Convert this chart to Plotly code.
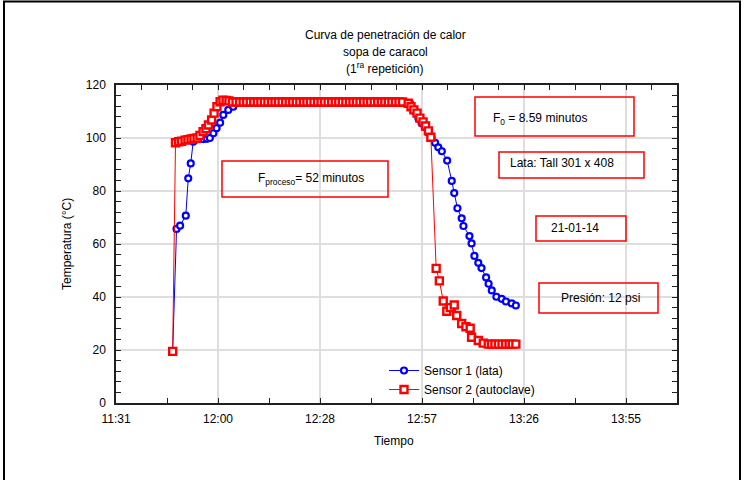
import plotly.graph_objects as go

# ---------------- data (time = minutes after midnight) ----------------
sensor1_time = [707.2, 708.3, 709.3, 710.9, 711.6, 712.3, 713.0, 714.0, 714.9, 715.9,
                716.9, 717.7, 718.7, 719.6, 720.6, 721.5, 722.9, 724.3,
                725.3, 726.3, 727.3, 728.3, 729.3, 730.3, 731.3, 732.3, 733.3, 734.3,
                735.3, 736.3, 737.3, 738.3, 739.3, 740.3, 741.3, 742.3, 743.3, 744.3,
                745.3, 746.3, 747.3, 748.3, 749.3, 750.3, 751.3, 752.3, 753.3, 754.3,
                755.3, 756.3, 757.3, 758.3, 759.3, 760.3, 761.3, 762.3, 763.3, 764.3,
                765.3, 766.3, 767.3, 768.3, 769.3, 770.3, 771.3, 772.3, 773.3,
                774.2, 775.6, 776.6, 777.5, 778.4, 779.4, 780.3, 781.3, 782.2, 783.2,
                784.7, 786.0, 786.7, 787.6, 788.8, 789.3, 791.0, 791.6, 792.4, 793.5,
                794.4, 795.7, 796.4, 797.3, 798.6, 800.1, 801.3, 802.9, 804.1]
sensor1_temp = [19.5, 65.7, 66.9, 70.7, 84.8, 90.4, 98.6, 99.5, 99.6, 99.6,
                99.7, 100.0, 101.8, 103.7, 105.8, 108.7, 110.6, 111.8,
                113.2, 113.2, 113.2, 113.2, 113.2, 113.2, 113.2, 113.2, 113.2, 113.2,
                113.2, 113.2, 113.2, 113.2, 113.2, 113.2, 113.2, 113.2, 113.2, 113.2,
                113.2, 113.2, 113.2, 113.2, 113.2, 113.2, 113.2, 113.2, 113.2, 113.2,
                113.2, 113.2, 113.2, 113.2, 113.2, 113.2, 113.2, 113.2, 113.2, 113.2,
                113.2, 113.2, 113.2, 113.2, 113.2, 113.2, 113.2, 113.2, 113.2,
                113.2, 110.0, 107.4, 105.6, 104.1, 102.0, 100.0, 98.2, 96.5, 95.0,
                91.5, 83.8, 79.2, 73.5, 69.7, 66.8, 63.0, 60.2, 55.5, 52.9,
                50.9, 47.4, 45.0, 42.5, 40.1, 39.3, 38.3, 37.6, 36.8]

sensor2_time = [707.2, 708.0, 708.9, 709.7, 710.7, 711.5, 712.4, 713.2, 714.1, 714.9,
                715.8, 716.6, 717.3, 718.2, 718.9, 719.7, 720.6, 721.4, 722.3, 723.1,
                724.1, 725.1, 726.1, 727.1, 728.1, 729.1, 730.1, 731.1, 732.1, 733.1,
                734.1, 735.1, 736.1, 737.1, 738.1, 739.1, 740.1, 741.1, 742.1, 743.1,
                744.1, 745.1, 746.1, 747.1, 748.1, 749.1, 750.1, 751.1, 752.1, 753.1,
                754.1, 755.1, 756.1, 757.1, 758.1, 759.1, 760.1, 761.1, 762.1, 763.1,
                764.1, 765.1, 766.1, 767.1, 768.1, 769.1, 770.1, 771.1, 772.1,
                773.7, 774.5, 775.3, 776.2, 777.0, 777.9, 778.6, 779.4, 780.1,
                781.6, 782.5, 783.6, 784.6, 785.6, 786.7, 787.4, 788.8, 790.0, 791.2,
                791.6, 793.5, 794.9, 796.3, 797.2, 798.2, 799.2, 800.2, 801.2, 802.2,
                803.1, 804.1]
sensor2_temp = [19.5, 98.2, 98.6, 98.8, 99.2, 99.4, 99.6, 99.8, 100.0, 101.0,
                102.4, 103.5, 104.9, 106.8, 109.4, 111.8, 113.7, 114.3, 114.2, 114.0,
                113.6, 113.6, 113.6, 113.6, 113.6, 113.6, 113.6, 113.6, 113.6, 113.6,
                113.6, 113.6, 113.6, 113.6, 113.6, 113.6, 113.6, 113.6, 113.6, 113.6,
                113.6, 113.6, 113.6, 113.6, 113.6, 113.6, 113.6, 113.6, 113.6, 113.6,
                113.6, 113.6, 113.6, 113.6, 113.6, 113.6, 113.6, 113.6, 113.6, 113.6,
                113.6, 113.6, 113.6, 113.6, 113.6, 113.6, 113.6, 113.6, 113.6,
                113.1, 111.8, 110.6, 109.4, 107.5, 106.1, 104.5, 102.7, 100.3,
                50.8, 46.1, 38.5, 34.6, 36.0, 37.0, 33.0, 30.0, 28.8, 28.2,
                24.8, 23.6, 22.6, 22.2, 22.2, 22.2, 22.2, 22.2, 22.2, 22.2,
                22.2, 22.2]

x_tick_values = [691.2, 720.0, 748.8, 777.6, 806.4, 835.2]
x_tick_labels = ["11:31", "12:00", "12:28", "12:57", "13:26", "13:55"]
x_range = [691.2, 849.6]
y_range = [0, 120]

# ---------------- layout geometry ----------------
W, H = 744, 480
L, R, T, B = 116, 67, 85, 77
PW = W - L - R
PH = H - T - B
FONT = "Arial, Liberation Sans, sans-serif"


def px(x):
    return (x - L) / PW


def py(y):
    return (H - B - y) / PH


fig = go.Figure()
fig.add_trace(go.Scatter(
    x=sensor1_time, y=sensor1_temp, mode="lines+markers", name="Sensor 1 (lata)",
    line=dict(color="#0000FF", width=1),
    marker=dict(symbol="circle", size=6, color="white",
                line=dict(color="#0000FF", width=2.2)),
))
fig.add_trace(go.Scatter(
    x=sensor2_time, y=sensor2_temp, mode="lines+markers", name="Sensor 2 (autoclave)",
    line=dict(color="#FF0000", width=1),
    marker=dict(symbol="square", size=7, color="white",
                line=dict(color="#FF0000", width=2.4)),
))
# invisible helper trace so the top axis (finer ticks) is drawn
fig.add_trace(go.Scatter(x=[x_range[0]], y=[y_range[0]], xaxis="x2", mode="markers",
                         marker=dict(opacity=0), showlegend=False, hoverinfo="skip"))

shapes = []
annotations = []

# outer black frame
shapes.append(dict(type="rect", xref="paper", yref="paper",
                   x0=px(4), x1=px(740), y0=py(500), y1=py(1.5),
                   line=dict(color="black", width=2), fillcolor="rgba(0,0,0,0)"))

# title lines
for txt, yy in [("Curva de penetración de calor", 35),
                ("sopa de caracol", 52),
                ("(1<sup>ra</sup> repetición)", 68)]:
    annotations.append(dict(text=txt, xref="paper", yref="paper", x=px(385), y=py(yy),
                            xanchor="center", yanchor="middle", showarrow=False,
                            font=dict(family=FONT, size=12, color="black")))

# axis titles
annotations.append(dict(text="Tiempo", xref="paper", yref="paper", x=px(394), y=py(441),
                        xanchor="center", yanchor="middle", showarrow=False,
                        font=dict(family=FONT, size=12, color="black")))
annotations.append(dict(text="Temperatura (°C)", xref="paper", yref="paper", x=px(67), y=py(244),
                        xanchor="center", yanchor="middle", showarrow=False, textangle=-90,
                        font=dict(family=FONT, size=12, color="black")))

# boxed notes: (text, box x0, x1, y0, y1, text cx, text cy)
notes = [
    ("F<sub>0</sub> = 8.59 minutos", 475, 634, 97, 136, 540, 119),
    ("Lata: Tall 301 x 408", 499, 644, 152, 178, 562, 163),
    ("21-01-14", 536, 626, 216, 241, 575, 228),
    ("Presión: 12 psi", 539, 658, 283, 313, 600, 298),
    ("F<sub>proceso</sub>= 52 minutos", 222, 388, 161, 197, 311, 179),
]
for txt, bx0, bx1, by0, by1, tx, ty in notes:
    shapes.append(dict(type="rect", xref="paper", yref="paper",
                       x0=px(bx0), x1=px(bx1), y0=py(by1), y1=py(by0),
                       line=dict(color="#FF0000", width=1.5), fillcolor="rgba(0,0,0,0)"))
    annotations.append(dict(text=txt, xref="paper", yref="paper", x=px(tx), y=py(ty),
                            xanchor="center", yanchor="middle", showarrow=False,
                            font=dict(family=FONT, size=12, color="black")))

fig.update_layout(
    width=W, height=H,
    margin=dict(l=L, r=R, t=T, b=B, autoexpand=False),
    paper_bgcolor="white", plot_bgcolor="white",
    font=dict(family=FONT, size=12, color="black"),
    showlegend=True,
    legend=dict(x=px(384), y=py(356), xanchor="left", yanchor="top",
                bgcolor="rgba(0,0,0,0)", font=dict(family=FONT, size=12, color="black"),
                itemwidth=30, tracegroupgap=0),
    shapes=shapes,
    annotations=annotations,
    xaxis=dict(
        range=x_range, tickmode="array", tickvals=x_tick_values, ticktext=x_tick_labels,
        ticks="inside", ticklen=5, tickwidth=1, tickcolor="#202020",
        showline=True, linecolor="#202020", linewidth=1.5, mirror=True,
        showgrid=True, gridcolor="#DEDEDE", gridwidth=1.5, zeroline=False,
        minor=dict(tickmode="linear", tick0=691.2, dtick=14.4, ticks="inside",
                   ticklen=5, tickcolor="#202020", showgrid=False),
        ticklabelstandoff=4, tickfont=dict(family=FONT, size=12, color="black"),
        automargin=False,
    ),
    xaxis2=dict(
        range=x_range, overlaying="x", side="top", anchor="y",
        tickmode="linear", tick0=691.2, dtick=7.2, ticks="inside", ticklen=5,
        tickwidth=1, tickcolor="#202020", showticklabels=False,
        showgrid=False, showline=False, zeroline=False, automargin=False,
    ),
    yaxis=dict(
        range=y_range, tickmode="linear", tick0=0, dtick=20,
        ticks="inside", ticklen=5, tickwidth=1, tickcolor="#202020",
        showline=True, linecolor="#202020", linewidth=1.5, mirror="allticks",
        showgrid=True, gridcolor="#DEDEDE", gridwidth=1.5, zeroline=False,
        minor=dict(tickmode="linear", tick0=0, dtick=4, ticks="inside",
                   ticklen=3, tickcolor="#202020", showgrid=False),
        ticklabelstandoff=6, tickfont=dict(family=FONT, size=12, color="black"),
        automargin=False,
    ),
)

fig.write_html("out.html")
